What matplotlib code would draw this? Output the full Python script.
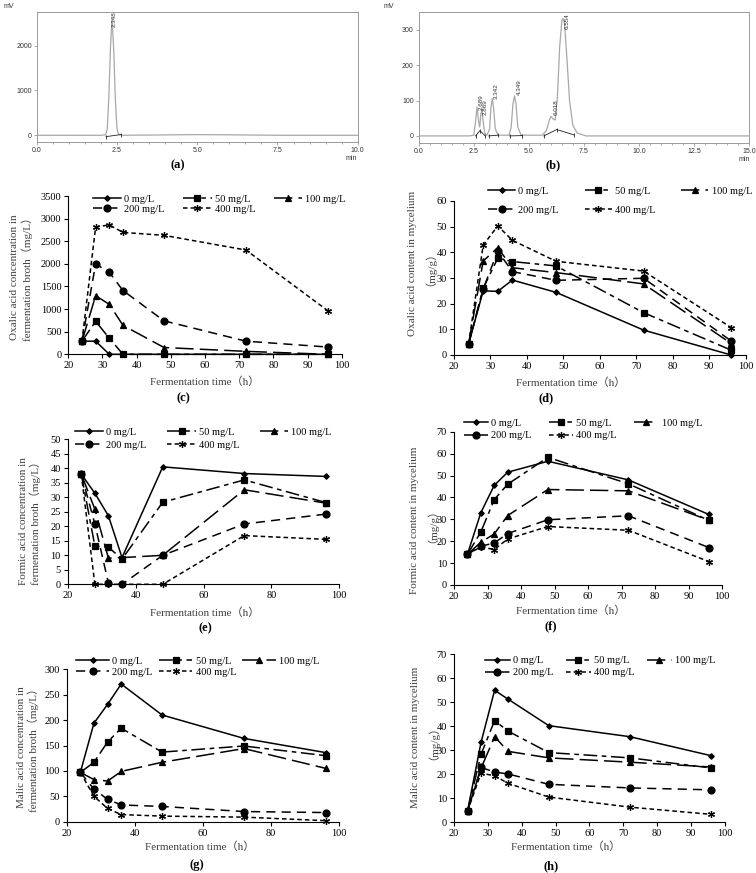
import matplotlib.pyplot as plt

W, H = 756, 873
SERIF = ["Liberation Serif", "Noto Sans CJK SC", "DejaVu Serif"]
SANS = ["Liberation Sans", "DejaVu Sans"]

# ---- chromatogram (a): standard, one peak
a_time = [0, 1.0, 2.0, 2.15, 2.2, 2.25, 2.3, 2.348, 2.4, 2.45, 2.5, 2.55, 2.7, 4.0, 5.0, 6.0, 7.5, 10.0]
a_mv = [0, 0, 0, 10, 150, 900, 2000, 2600, 1900, 800, 150, 20, 0, 8, 15, 10, 0, 0]
a_peak_lbl = ["2.348"]
a_peak_t = [2.42]
a_peak_y = [2420]
a_base_t = [2.16, 2.62]
a_base_y = [-30, 15]

# ---- chromatogram (b): sample
b_time = [0, 2.3, 2.5, 2.58, 2.65, 2.72, 2.77, 2.82, 2.87, 2.93, 3.0, 3.1, 3.22, 3.28, 3.342, 3.4,
          3.48, 3.6, 4.1, 4.2, 4.28, 4.349, 4.42, 4.5, 4.65, 5.6, 5.8, 5.95, 6.018, 6.1, 6.2,
          6.3, 6.4, 6.5, 6.554, 6.62, 6.72, 6.85, 7.0, 7.2, 7.6, 15.0]
b_mv = [0, 0, 2, 40, 82, 40, 25, 60, 75, 40, 8, 2, 20, 80, 105, 80,
        20, 2, 2, 25, 90, 113, 90, 25, 2, 2, 15, 48, 55, 48, 45,
        110, 250, 325, 332, 320, 230, 100, 30, 8, 0, 0]
b_peak_lbl = ["2.689", "2.869", "3.342", "4.349", "6.018", "6.554"]
b_peak_t = [2.82, 3.02, 3.50, 4.55, 6.22, 6.72]
b_peak_y = [72, 58, 105, 115, 58, 303]
b_base_t = [[2.58, 2.78, 3.02], [3.18, 3.58], [4.13, 4.70], [5.68, 6.27, 7.05]]
b_base_y = [[0, 15, 0], [0, 2], [0, 1], [0, 18, 3]]

# ---- time-course panels (c)-(h)
time_h = [24, 28, 32, 36, 48, 72, 96]
doses = ["0 mg/L", "50 mg/L", "100 mg/L", "200 mg/L", "400 mg/L"]

oxalic_broth = [
    [290, 290, 0, 0, 0, 0, 0],
    [290, 730, 355, 0, 0, 0, 0],
    [290, 1295, 1105, 640, 150, 65, 0],
    [290, 2000, 1810, 1410, 740, 290, 160],
    [290, 2815, 2860, 2695, 2630, 2305, 960],
]
oxalic_myc = [
    [4.3, 25.0, 24.8, 29.2, 24.4, 9.7, 0.0],
    [4.3, 26.0, 37.7, 36.4, 34.7, 16.5, 1.9],
    [4.3, 36.6, 41.8, 34.0, 32.1, 27.7, 4.5],
    [4.3, 25.7, 40.5, 32.5, 29.1, 29.9, 5.5],
    [4.3, 42.8, 50.3, 44.7, 36.5, 32.7, 10.7],
]
formic_broth = [
    [38.0, 31.4, 23.6, 9.2, 40.5, 38.2, 37.2],
    [38.0, 13.2, 12.8, 8.7, 28.3, 36.0, 28.2],
    [38.0, 25.9, 9.0, 9.2, 10.0, 32.6, 28.0],
    [38.0, 20.8, 0.4, 0.0, 10.0, 20.8, 24.2],
    [38.0, 0.0, 0.0, 0.0, 0.0, 16.8, 15.5],
]
formic_myc = [
    [14.0, 33.0, 45.5, 51.5, 56.5, 48.0, 32.2],
    [14.0, 24.2, 39.0, 46.0, 58.3, 46.2, 29.5],
    [14.0, 19.5, 23.3, 31.7, 43.6, 43.0, 29.6],
    [14.0, 17.7, 19.2, 23.5, 29.8, 31.6, 17.1],
    [14.0, 17.4, 16.2, 21.0, 26.7, 25.0, 10.7],
]
malic_broth = [
    [97, 194, 231, 271, 210, 164, 136],
    [97, 117, 157, 184, 137, 149, 130],
    [97, 83, 80, 99, 117, 144, 105],
    [97, 64, 44, 33, 30, 20, 18],
    [97, 50, 26, 14, 11, 9, 2],
]
malic_myc = [
    [4.7, 33.3, 54.9, 51.2, 40.2, 35.6, 27.7],
    [4.7, 28.3, 42.3, 37.9, 29.0, 26.8, 22.6],
    [4.7, 22.5, 35.6, 29.5, 26.8, 25.0, 23.0],
    [4.7, 22.8, 20.9, 20.1, 15.8, 14.3, 13.5],
    [4.7, 20.5, 19.3, 16.2, 10.5, 6.3, 3.3],
]

styles = [
    dict(ls="-", marker="D", ms=2.8),
    dict(ls=(0, (9, 3, 3, 3)), marker="s", ms=4.8),
    dict(ls=(0, (12, 4)), marker="^", ms=4),
    dict(ls=(0, (6, 4)), marker="o", ms=5),
    dict(ls=(0, (3, 2)), marker=(6, 2, 0), ms=5),
]

fig = plt.figure(figsize=(W / 100, H / 100), dpi=100)


def axes_px(l, t, r, b):
    return fig.add_axes([l / W, 1 - b / H, (r - l) / W, (b - t) / H])


def ftext(x, y, s, **kw):
    fig.text(x / W, 1 - y / H, s, **kw)


def chromatogram(box, t, mv, xmax, ylim, yticks, xticks, lbl, lt, ly, bt, by, corner):
    ax = axes_px(*box)
    ax.plot(t, mv, color="#a8a8a8", lw=0.9)
    for xs, ys in zip(bt, by):
        ax.plot(xs, ys, color="#222222", lw=0.6, marker="|", ms=3, mew=0.6)
    for s, x, y in zip(lbl, lt, ly):
        ax.text(x, y, s, rotation=90, ha="center", va="bottom", fontsize=4.5,
                family=SANS, color="#333333")
    ax.set_xlim(0, xmax)
    ax.set_ylim(*ylim)
    ax.set_xticks(xticks)
    ax.set_xticklabels([f"{v:.1f}" for v in xticks])
    ax.set_xticks([v / 2 for v in range(int(xmax * 2) + 1)], minor=True)
    ax.set_yticks(yticks)
    for sp in ax.spines.values():
        sp.set_color("#9a9a9a")
        sp.set_linewidth(0.7)
    ax.tick_params(which="both", direction="out", color="#9a9a9a", labelsize=5,
                   labelcolor="#333333", length=2.5, width=0.6, pad=1)
    ax.tick_params(which="minor", length=1.5)
    for lab in ax.get_xticklabels() + ax.get_yticklabels():
        lab.set_family(SANS)
    ftext(corner[0], corner[1], "mV", fontsize=5, family=SANS, color="#333333", va="center")
    ftext(corner[2], corner[3], "min", fontsize=5, family=SANS, color="#333333",
          va="center", ha="center")


chromatogram((36.7, 12, 357.7, 142), a_time, a_mv, 10, (-150, 2750), [0, 1000, 2000],
             [0, 2.5, 5, 7.5, 10], a_peak_lbl, a_peak_t, a_peak_y,
             [a_base_t], [a_base_y], (4, 7, 351, 158.5))
chromatogram((418.7, 12, 749, 143), b_time, b_mv, 15, (-20, 350), [0, 100, 200, 300],
             [0, 2.5, 5, 7.5, 10, 12.5, 15], b_peak_lbl, b_peak_t, b_peak_y,
             b_base_t, b_base_y, (384, 7, 744, 159.5))
ftext(178, 165, "(a)", ha="center", va="center", fontsize=9, fontweight="bold", family=SERIF)
ftext(553, 165, "(b)", ha="center", va="center", fontsize=9, fontweight="bold", family=SERIF)

panels = [
    # data, box, ymax, ystep, xstep, ylabel, ylabel pos, legend pos, colsp, handlelen, labsp, xlabel pos, tag pos, tag
    (oxalic_broth, (68.3, 196, 341.7, 354.3), 3500, 500, 10,
     "Oxalic acid concentration in\nfermentation broth（mg/L）", (21.5, 276.7),
     (93, 194.5), 1.8, 2.7, 0.1, (205, 381.7), (183, 398), "(c)"),
    (oxalic_myc, (454, 201, 745.7, 355), 60, 10, 10,
     "Oxalic acid content in mycelium\n（mg/g）", (419, 263),
     (488, 186.5), 2.5, 2.6, 0.95, (571, 382.3), (546, 398), "(d)"),
    (formic_broth, (67.7, 439.3, 339.3, 584.3), 50, 5, 20,
     "Formic acid concentration in\nfermentation broth（mg/L）", (30, 520.7),
     (75, 427.5), 2.0, 2.7, 0.35, (205, 612.7), (205, 628.3), "(e)"),
    (formic_myc, (454, 431.7, 722.3, 585), 70, 10, 10,
     "Formic acid content in mycelium\n（mg/g）", (421, 520.7),
     (464, 418.5), 1.7, 2.3, 0.3, (571, 610.7), (551, 626.7), "(f)"),
    (malic_broth, (66.7, 669.3, 339.3, 821.7), 300, 50, 20,
     "Malic acid concentration in\nfermentation broth（mg/L）", (28, 747),
     (76, 656.5), 0.6, 3.2, 0.15, (200, 846.7), (197, 865), "(g)"),
    (malic_myc, (454, 654, 724.7, 822.3), 70, 10, 10,
     "Malic acid content in mycelium\n（mg/g）", (422, 737),
     (484.7, 656), 1.2, 2.4, 0.25, (566, 846.7), (551, 866), "(h)"),
]

order = [0, 3, 1, 4, 2]
for (data, box, ymax, ystep, xstep, ylab, ylpos, lgpos, colsp, hlen, labsp,
     xlpos, tagpos, tag) in panels:
    ax = axes_px(*box)
    handles = []
    for vals, st in zip(data, styles):
        h, = ax.plot(time_h, vals, color="black", lw=1.1, ls=st["ls"], marker=st["marker"],
                     ms=st["ms"], mfc="black", mec="black", mew=0.9, clip_on=False)
        handles.append(h)
    ax.set_xlim(20, 100)
    ax.set_ylim(0, ymax)
    ax.set_xticks(range(20, 101, xstep))
    ax.set_yticks(range(0, ymax + 1, ystep))
    for s in ("top", "right"):
        ax.spines[s].set_visible(False)
    for s in ("left", "bottom"):
        ax.spines[s].set_linewidth(0.8)
    ax.tick_params(direction="out", length=3, width=0.8, labelsize=7.5, pad=2)
    for lab in ax.get_xticklabels() + ax.get_yticklabels():
        lab.set_family(SERIF)
    ax.legend([handles[i] for i in order], [doses[i] for i in order], ncol=3,
              loc="upper left", bbox_to_anchor=(lgpos[0] / W, 1 - lgpos[1] / H),
              bbox_transform=fig.transFigure, frameon=False, handlelength=hlen,
              handletextpad=0.3, columnspacing=colsp, labelspacing=labsp,
              borderpad=0, borderaxespad=0, prop=dict(family=SERIF, size=7.5))
    ftext(ylpos[0], ylpos[1], ylab, rotation=90, ha="center", va="center",
          multialignment="center", fontsize=8, family=SERIF, color="#404040",
          linespacing=1.25)
    ftext(xlpos[0], xlpos[1], "Fermentation time（h）", ha="center", va="center",
          fontsize=8, family=SERIF, color="#404040")
    ftext(tagpos[0], tagpos[1], tag, ha="center", va="center", fontsize=9,
          fontweight="bold", family=SERIF)

fig.savefig("out.png", dpi=100)
plt.close(fig)
